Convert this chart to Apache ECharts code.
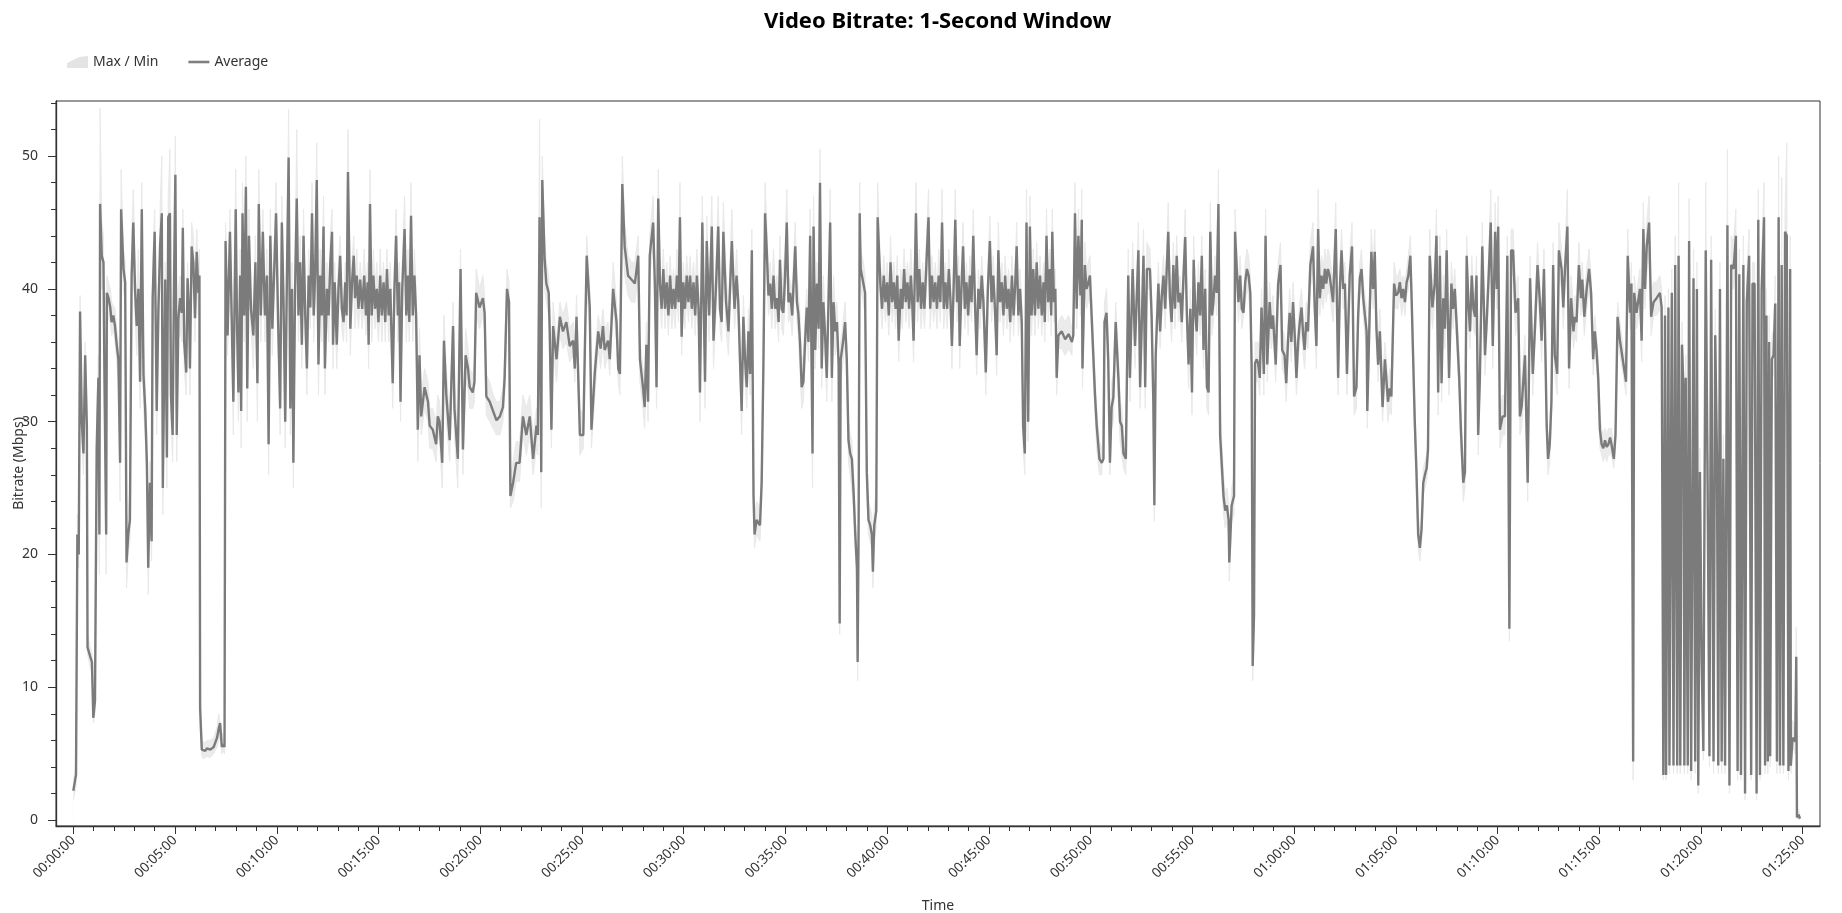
<!DOCTYPE html>
<html>
<head>
<meta charset="utf-8">
<title>Video Bitrate: 1-Second Window</title>
<script src="https://cdn.jsdelivr.net/npm/echarts@6/dist/echarts.min.js"></script>
<style>
  html, body { margin: 0; padding: 0; background: #fff; }
  #chart { width: 1842px; height: 913px; }
</style>
</head>
<body>
<div id="chart"></div>
<script>
// seconds from start of the clip
const secs = [
  0,8,12,16,20,25,30,35,40,42,
  50,55,59,64,69,74,77,79,84,89,
  92,97,99,104,109,113,118,123,128,133,
  138,141,148,153,157,162,167,172,177,182,
  187,192,197,202,207,212,217,221,226,231,
  234,240,246,251,256,261,264,268,271,276,
  280,285,288,293,297,301,305,310,315,320,
  323,327,333,337,342,344,349,354,359,364,
  369,372,374,379,384,389,394,404,414,424,
  429,433,438,442,446,449,455,462,467,472,
  479,483,487,492,495,499,504,509,513,518,
  524,531,537,543,547,553,559,565,571,576,
  581,587,592,598,604,610,615,620,625,630,
  635,640,645,649,654,659,664,669,674,679,
  684,689,694,699,704,709,713,718,723,728,
  733,738,742,748,753,758,763,766,771,777,
  782,787,792,797,802,806,810,817,822,827,
  831,836,841,846,852,858,863,868,871,875,
  880,885,890,895,900,905,910,915,920,925,
  930,935,942,947,952,957,961,965,970,977,
  982,987,991,996,1001,1006,1011,1016,1021,1026,
  1036,1046,1051,1060,1070,1075,1080,1088,1093,1100,
  1110,1115,1120,1124,1134,1142,1149,1157,1164,1169,
  1178,1183,1188,1198,1208,1213,1218,1228,1238,1248,
  1258,1267,1272,1279,1285,1289,1297,1306,1316,1326,
  1336,1346,1356,1366,1370,1375,1380,1383,1390,1395,
  1402,1405,1410,1415,1425,1435,1444,1454,1464,1474,
  1479,1484,1494,1504,1509,1514,1523,1528,1538,1548,
  1555,1562,1567,1577,1582,1592,1602,1607,1612,1619,
  1626,1636,1646,1656,1666,1671,1680,1685,1690,1695,
  1700,1710,1715,1720,1725,1730,1735,1740,1745,1750,
  1755,1760,1765,1770,1775,1780,1785,1789,1794,1799,
  1804,1809,1814,1819,1824,1829,1834,1839,1844,1848,
  1855,1863,1868,1875,1883,1888,1895,1902,1907,1912,
  1917,1925,1932,1942,1950,1956,1961,1966,1971,1976,
  1981,1986,1991,1996,2001,2006,2009,2015,2025,2030,
  2035,2040,2045,2050,2055,2060,2065,2070,2075,2080,
  2084,2089,2094,2099,2104,2109,2114,2120,2129,2134,
  2138,2143,2148,2153,2158,2163,2168,2173,2180,2183,
  2188,2193,2198,2202,2207,2212,2217,2222,2227,2232,
  2237,2242,2247,2252,2257,2260,2263,2270,2276,2281,
  2286,2291,2296,2301,2306,2311,2313,2316,2319,2322,
  2330,2335,2340,2345,2350,2355,2358,2362,2368,2372,
  2380,2385,2390,2395,2400,2405,2410,2415,2420,2425,
  2430,2434,2440,2445,2450,2455,2460,2465,2470,2474,
  2478,2485,2490,2495,2500,2505,2510,2516,2522,2527,
  2532,2537,2542,2547,2552,2557,2562,2567,2572,2577,
  2582,2587,2591,2596,2601,2606,2611,2614,2619,2624,
  2629,2634,2639,2644,2649,2654,2659,2664,2669,2674,
  2679,2684,2691,2697,2703,2708,2713,2718,2723,2728,
  2733,2738,2743,2748,2753,2758,2763,2768,2773,2778,
  2782,2787,2792,2797,2801,2806,2811,2816,2821,2826,
  2831,2836,2841,2846,2851,2856,2861,2865,2870,2875,
  2880,2884,2887,2892,2896,2900,2905,2915,2925,2935,
  2945,2949,2954,2959,2964,2970,2974,2976,2983,2988,
  2993,2998,3003,3008,3013,3018,3026,3033,3038,3041,
  3047,3052,3057,3062,3067,3074,3082,3087,3092,3097,
  3104,3111,3116,3124,3131,3141,3146,3156,3161,3166,
  3175,3180,3185,3188,3192,3200,3205,3210,3215,3220,
  3225,3229,3234,3239,3244,3249,3254,3259,3264,3269,
  3274,3279,3284,3289,3294,3299,3304,3309,3313,3318,
  3323,3328,3333,3338,3343,3348,3353,3358,3362,3367,
  3372,3377,3382,3392,3397,3402,3407,3409,3416,3423,
  3426,3431,3436,3441,3446,3451,3456,3461,3466,3471,
  3475,3478,3482,3485,3490,3494,3499,3504,3511,3516,
  3521,3528,3533,3538,3546,3553,3560,3565,3572,3577,
  3582,3587,3592,3597,3602,3607,3612,3617,3622,3627,
  3631,3636,3641,3648,3656,3661,3666,3671,3676,3681,
  3686,3691,3695,3700,3705,3710,3715,3723,3730,3735,
  3740,3745,3750,3756,3764,3771,3777,3784,3789,3794,
  3799,3804,3809,3814,3816,3823,3828,3833,3838,3843,
  3848,3853,3861,3868,3877,3882,3887,3895,3901,3907,
  3912,3917,3922,3927,3932,3937,3943,3947,3951,3956,
  3961,3966,3971,3976,3981,3986,3991,3995,4000,4008,
  4015,4020,4025,4030,4035,4040,4045,4050,4057,4064,
  4069,4074,4079,4087,4092,4099,4104,4109,4114,4119,
  4124,4129,4134,4138,4143,4148,4155,4160,4163,4168,
  4174,4180,4186,4193,4198,4202,4207,4215,4222,4229,
  4235,4240,4246,4253,4261,4266,4271,4281,4289,4296,
  4304,4310,4318,4325,4330,4337,4345,4349,4354,4359,
  4364,4369,4376,4381,4389,4394,4399,4406,4411,4417,
  4424,4428,4433,4440,4446,4450,4456,4463,4470,4476,
  4482,4487,4492,4497,4502,4507,4512,4517,4522,4527,
  4532,4536,4543,4548,4554,4561,4571,4579,4584,4591,
  4595,4600,4603,4610,4620,4625,4630,4635,4640,4647,
  4653,4660,4669,4679,4684,4689,4694,4697,4704,4707,
  4714,4719,4724,4730,4734,4739,4744,4749,4751,4755,
  4761,4765,4771,4778,4783,4788,4792,4797,4802,4807,
  4814,4819,4825,4830,4837,4842,4847,4851,4856,4861,
  4866,4871,4878,4884,4889,4896,4903,4908,4913,4918,
  4925,4930,4935,4942,4948,4952,4958,4964,4969,4974,
  4979,4986,4989,4993,4997,5001,5004,5009,5014,5019,
  5024,5029,5033,5038,5043,5048,5053,5058,5063,5065,
  5070,5078,5081,5083,5088,5092
];

const avgMbps = [
  2.2,3.4,21.5,20,38.3,30,27.6,35,29.7,13,
  12.3,11.9,7.7,9,28,33.3,21.5,46.4,42.5,42,
  33,21.5,39.7,39.3,38.6,37.5,38,37.2,35.8,34.7,
  26.9,46,41.5,40.5,19.4,21.5,22.6,41,45,40,
  37.2,40,33,46,33.5,31,26.9,19,25.4,21,
  39.3,44.3,30.8,38.5,43.2,45.7,25,33.7,40.7,27.3,
  45.4,45.7,32,29,40.4,48.6,29,37.8,39.3,38.2,
  44.6,36,33.7,40.8,37.5,34,43.2,42,37.8,42.8,
  39.7,41,8.4,5.3,5.2,5.2,5.4,5.3,5.5,6.2,
  6.9,7.3,5.5,5.7,5.5,43.6,36.5,44.3,38,31.5,
  46,37,32.2,41,30.8,45.7,38,47.7,32.5,44,
  38.5,36.5,42,32.9,46.4,38,44.3,38,41,28.3,
  44,37,41,45.7,37.5,31,45,39,30,41,
  49.9,31,40,26.9,40,46.8,38,42,35.8,44,
  38,34,41,38.6,45.7,38,41,48.2,34.3,41,
  38,44.7,34,40,38,42,44.3,35.8,40.5,35.8,
  40,42.5,38.5,37.5,40.5,38,48.8,37,40.5,42.5,
  39.3,41,38.5,40.7,38.5,41,38,40.5,35.8,46.4,
  38,41,38.5,40,37.5,41,38,40.5,37.5,41.5,
  38,40,32.9,40,44,38,40.5,31.5,40,44.5,
  38,41,37.5,45.5,38,41,38,29.4,35,30.4,
  32.6,31.5,29.7,29.4,28.3,30.4,30,26.9,36.1,32,
  28.6,33,37.2,31,27.2,41.5,27.9,35,34,32.6,
  32.2,33,39.7,38.6,39.3,38.2,31.9,31.5,30.8,30.1,
  30.4,31.1,33.3,40,39,24.4,25.4,26.9,26.9,30.4,
  29,30.4,27.2,29.7,29,45.4,26.2,48.2,42.2,40.4,
  39.7,36.8,29.4,37.2,34.7,37.9,36.8,37.5,35.7,36.1,
  34,37.9,29,29,36,42.5,38.6,29.4,33.7,36.8,
  35.5,37.2,35.4,36.1,34.7,40,37.5,34,33.6,47.9,
  43.2,41,40.7,40.4,42.5,34.7,32.6,31.1,35.8,31.5,
  42.5,45,40.4,32.6,46.8,40.4,38.5,41.5,38.5,40.5,
  38,41,38.5,40,38.5,41,39,45.4,36.4,40.5,
  38.5,41,39,41,38.5,40.5,38,41,38.5,32.2,
  45,33,43.6,38,44.7,36.1,40,44.7,38.5,37.5,
  44.3,39,36.8,43.6,38.5,41,39,34.7,30.8,37.9,
  34.7,32.6,36.8,33.6,42.9,24.4,21.5,22.6,22.2,25.4,
  34,45.7,42.9,39.5,40.4,38.5,41,38.5,39.3,37.5,
  42.2,38.5,38.2,41,45,39,39.7,38,43.2,39,
  38.2,36,32.6,33,36,38.6,36,44,27.6,44.7,
  35.4,40.4,37,48,34,39,36.5,33.3,39,45,
  33.3,39,36.8,37.5,34.3,14.8,34.7,36,37.5,34.7,
  28.6,27.6,27.2,24.7,21.5,19,11.9,22.6,45.7,41.5,
  40.4,39.7,26.2,22.6,22.2,21.5,18.7,22.2,23.3,45.4,
  40.4,38.5,41,39,40.5,38,42,39,40.5,38.5,
  41,36.1,40,38.5,41.5,39,40.5,38.5,41,39,
  36.1,45.7,39,41.5,38.5,40.5,38.5,42,45.4,38.5,
  41,39,40.5,38.5,41,39,45,38.5,40.5,38.5,
  41.5,39,35.7,40,45.2,39,41,35.7,40,43.2,
  38.5,40.5,38,41,39,44,39,35,40,38.5,
  41,39,33.7,40,43.6,39,41,38.5,35,42.9,
  39,40.5,38,41,38.5,40,37.5,41,38,40.5,
  43.2,38,40,37.5,29.7,27.6,45,30,44.7,38,
  41.5,38,42,38.5,41,38,40.5,37.5,44,39,
  41.5,38,44.3,39,40,33.3,36.5,36.8,36.2,36.6,
  36,36.5,45.7,38.5,44,39.5,45.2,34,41.8,40,
  40.4,41,38,35,32,29.7,27.2,26.9,27.2,37.5,
  38.2,34.7,26.9,31.1,31.8,37.5,33.3,30,29.7,27.6,
  27.2,41,33.3,41.5,35.7,42.9,32.6,42.5,32.6,41.5,
  41.5,37.9,31.5,23.7,35,40.4,36.8,39.5,41,38.5,
  41.8,44.3,39.3,37.5,41.8,38.5,42.5,39,39.7,37.5,
  41,43.9,38,34.3,38.5,32.2,42.2,38,36.8,40.5,
  38,42.5,35.4,40,32.6,32.2,44.3,38,39,41,
  39.7,46.4,29,24.4,23.3,23.7,22.6,19.4,23.7,24.4,
  44.3,41.5,39,41,38.5,38.2,40.5,41.5,41,39.7,
  34,11.6,15.5,34.4,34.7,34.4,33.3,38.6,33.6,44,
  34.3,39,37,38,34.3,40.4,41.8,35.4,35,32.9,
  36,38.2,36,39,36.5,33.3,36,37.5,38.6,36.5,
  35.4,37.5,36.8,41.8,43.2,38.6,35.7,44.5,39.3,41,
  40,41.5,40.4,41.5,41,40,39,44.5,33.3,40,
  42.9,40,40.4,33.6,41,43.2,31.9,32.6,38,40.8,
  41.5,39.3,38,36.8,30.8,38.2,42.8,40,42.8,37,
  34.3,36.8,31.1,34.7,31.5,32.5,31.9,40.4,39.5,39.7,
  40.5,39.3,40,39,40.5,41,42.5,39,35,30,
  26.2,21.5,20.5,21.9,25.4,26,26.5,27.9,42.5,38.6,
  40.4,44,32.2,42.5,32.9,39.3,37,42.9,33.3,40.4,
  38.5,40,37.5,33.3,29.4,25.4,26.2,42.5,39,36.8,
  41,38.5,37.9,41,29,33.3,43.2,38.5,35,37.5,
  41,45,35.7,44.3,40,44.7,29.4,30.4,30.4,42.5,
  14.4,42.9,42.9,38.2,39.3,30.4,31.1,35,25.4,40.8,
  33.6,36.8,41.8,39,36.1,41.5,29.7,27.2,28.3,31.5,
  41.8,35,33.6,42.9,41.5,38.6,41.5,44.7,34,39.3,
  36.8,37.9,37.5,41.8,39.3,40.7,37.9,40,41.5,39.7,
  34.7,36.8,35.4,33.3,29.4,28.3,28,28.6,28.1,28.3,
  28.8,28.3,27.2,29,37.9,36.1,34.4,33,42.5,38.2,
  40.4,4.4,39.7,38.2,40,36.1,44.5,40,43.2,45,
  37.9,39,39.3,39.7,38.6,3.4,38,3.4,38.6,4.1,
  39.7,4.1,41.8,4.1,42.5,4.1,35.8,31.9,4.1,33.3,
  4.1,43.6,3.7,40.8,4.4,40,2.6,26.2,12,5.2,
  42.9,27.2,4.8,42.2,4.4,36.5,27.6,4.1,40,4.4,
  27.2,4.1,44.8,2.6,41.8,41.5,44,3.7,41.1,3.4,
  41.8,2,39,42.5,3.4,40.4,40.4,2,45.2,3.4,
  40,45.4,4.1,38,4.4,36,4.8,34.7,35,38.9,
  4.4,45.4,4.1,41.8,4.1,44.3,44,3.7,41.5,4.1,
  6.2,5.9,12.3,0.2,0.4,0.1
];

const maxMbps = [
  3,4,23,22,39.5,32,29,36,31,14,
  13,12.5,8.5,10,30,35,24,53.6,45,44,
  35,23,41,40.5,40,39,39,38.5,37,36,
  29,49,43,42,22,23,25,44,47.5,42,
  39,43,35,48,36,33,29,21,27,23,
  42,46,33,40,46,50,27,36,42,30,
  47,50.5,34,31,43,51.5,31,40,41,40,
  46,38,36,42,39,36,45,44,40,44.5,
  41,43,10,6,6,5.8,6,6,6.2,7,
  8,8,6.5,6.5,6.5,45,38,46,40,34,
  49,39,35,43,33,48,40,50,35,46,
  40,38,44,35,49,40,46,39.5,43,31,
  46,39,43,48,39,33,47,41,32,43,
  53.5,33,42,29,42,52,40,44,38,46,
  40,36,43,40,48,40,43,51,36,43,
  40,47,36,42,40,44,46,38,42,38,
  42,44,40,39,42,40,52,39,42,44,
  41,43,40,42,40,43,40,42,38,49,
  40,43,40,42,39,43,40,42,39,43,
  40,42,35,42,46,40,42,34,42,47,
  40,43,39,48,40,43,40,31,37,32,
  34,33,31,31,30,32,31.5,29,38,34,
  30,35,39,33,29,43,30,37,35.5,34,
  33.5,34.5,41.5,40,41,39.5,33.5,33,32,31.5,
  31.5,32.5,35,41.5,40.5,26,27,28.5,28.5,32,
  31,32,29,31,30.5,52.8,28,50,44,42,
  41,38.5,31,39,36,39,38,39,37,37.5,
  35.5,39.5,31,30.5,38,44,40,31,35,38,
  37,38.5,37,37.5,36,42,39,36,35,50,
  45,42.5,42,42,44,36,34,33,37.5,33,
  44,47,42,34,49,42,40,43,40,42,
  39.5,42.5,40,41.5,40,43,40.5,48,38,42,
  40,42.5,40.5,42.5,40,42,40,43,40,34,
  47,35,45.5,40,47,38,42,47,40,39,
  46.5,41,38.5,46,40,43,40.5,36.5,32.5,39.5,
  36.5,34,38.5,35,44.5,26,23,24,23.5,27,
  36,48,45,41,42,40,43,40,41,39,
  44,40,40,43,47.5,41,41,40,45,41,
  40,38,34.5,35,38,40,38,46,30,47,
  37,42,39,50.5,36,41,38,35,41,47.5,
  35,41,38.5,39,36,16.5,36,37.5,39,36,
  30,29,28.5,26,23,20.5,13.5,24,48,43,
  42,41,28,24,23.5,23,20,23.5,25,48,
  42,40,42.5,40.5,42,39.5,44,40.5,42,40,
  42.5,38,41.5,40,43,40.5,42,40,43,40.5,
  38,48,40.5,43,40,42,40,44,47.5,40,
  42.5,40.5,42,40,43,40.5,47.5,40,42,40,
  43,40.5,37.5,42,47.5,40.5,42.5,37.5,41.5,45,
  40,42,39.5,42.5,40.5,46,40.5,37,41.5,40,
  42.5,40.5,35.5,41.5,45.5,40.5,42.5,40,37,45,
  40.5,42,39.5,42.5,40,41.5,39,42.5,39.5,42,
  45,39.5,41.5,39,31.5,29,47.5,32,47,39.5,
  43,39.5,43.5,40,42.5,39.5,42,39,46,40.5,
  43,39.5,46,40.5,41.5,35,37.5,38,37.5,38,
  37,38,48,40,46,41,47.5,36,43.5,41.5,
  42,42.5,39.5,36.5,33.5,31,28.5,28,28.5,39,
  40,36,28.5,33,33.5,39,35,31.5,31,29,
  28.5,43,35,43.5,37.5,45,34.5,44.5,34.5,43.5,
  43,39.5,33,25,37,42,38.5,41,42.5,40,
  43.5,46.5,41,39,43.5,40,44,40.5,41,39,
  42.5,46,39.5,36,40,34,44,39.5,38.5,42,
  39.5,44,37,41.5,34.5,34,46.5,39.5,40.5,42.5,
  41,49,31,26,24.5,25,24,21,25,26,
  46,43,40.5,42.5,40,39.5,42,43,42.5,41,
  35.5,13.5,17,36,36,36,35,40,35,46,
  36,40.5,38.5,39.5,36,42,43.5,37,36.5,34.5,
  37.5,40,37.5,40.5,38,35,37.5,39,40,38,
  37,39,38.5,43.5,45,40,37.5,47.5,41,42.5,
  41.5,43,42,43,42.5,41.5,40.5,46.5,35,41.5,
  44.5,41.5,42,35,42.5,45,33.5,34,39.5,42,
  43,40.5,39.5,38.5,32.5,40,44.5,41.5,44.5,38.5,
  36,38.5,33,36,33,34,33.5,42,41,41,
  41.5,40.5,41,40.5,41.5,42.5,44,40.5,36.5,31.5,
  27.5,23,21.5,23,26.5,27,27.5,29,44.5,40,
  42,46,34,44,34.5,41,38.5,44.5,35,42,
  40,41.5,39,35,31,27,27.5,44,40.5,38.5,
  42.5,40,39.5,42.5,31,35,45,40,36.5,39,
  42.5,47.5,37.5,46.5,41.5,47,31,32,32,44,
  16,44.5,44.5,40,41,32,33,36.5,27,42.5,
  35,38.5,43.5,40.5,37.5,43,31,28.5,29.5,33,
  43.5,36.5,35,45,43,40,43,47.5,35.5,41,
  38.5,39.5,39,43.5,40.5,42,39.5,41.5,43,41,
  36,38,36.5,34.5,30.5,29.5,29,29.5,29,29.5,
  29.5,29.5,28,30,39,37.5,35.5,34.5,44.5,39.5,
  42,6,41,39.5,41.5,37.5,46.5,41.5,45,47,
  39.5,40.5,40.5,41,40,5,39.5,5,40,5.5,
  41.5,5.5,44,5.5,48,5.5,37.5,33.5,5.5,35,
  5.5,46.8,5,43,6,42,4,28,14,6.5,
  48,29,6,44,6,38.5,29.5,5.5,42,6,
  29,5.5,50.5,4,44,43.5,46,5,43,5,
  44,3.5,41,44.5,5,42,42,3.5,47.5,5,
  42,48,5.5,40,6,38,6,36.5,37,41,
  6,50,5.5,48.4,5.5,46,51,5,44,5.5,
  7.5,7,14.5,1,1,0.5
];

const minMbps = [
  1.5,2.5,20,19,36,29,26,33,28,12.5,
  11.5,11,7.3,8,26,31,18.5,40,40,40,
  31,18.5,38,38,37.5,36.5,37,36,34.5,33,
  24,43,40,39,17.5,20,21,39,43,38,
  35,38,31,44,31,29,25,17,23,19.5,
  37,42,29,36,41,43,23,31,38,25,
  43,43,30,27,38,46,27,36,37,36,
  42,34,32,39,36,32,41,40,36,41,
  38,39,7,4.8,4.6,4.5,4.8,4.7,5,5.5,
  6,6.5,5,5.2,5,42,35,42,36,29,
  44,35,30,39,28,43,36,45,30,42,
  37,34,40,30,44,36,42,36,39,26,
  42,35,39,43,36,29,43,37,28,39,
  47,29,38,25,38,44,36,40,34,42,
  36,32,39,37,43,36,39,46,32,39,
  36,42,32,38,36,40,42,34,39,34,
  38,40,37,36,39,36,46,35,39,40,
  37,39,37,39,37,39,36.5,39,34,44,
  36,39,37,38,36,39,36,39,36,40,
  36,38,31,38,42,36,39,30,38,42,
  36,39,36,43,36,39,36,27,33,29,
  31,30,28,28,27,29,28.5,25,34,30,
  27,31,35,29,25,39,26,33,32.5,31,
  31,31.5,38,37,38,37,30.5,30,29.5,29,
  29,30,32,38.5,37.5,23.5,24,25.5,25.5,29,
  27.5,29,26,28,27.5,38,23.5,44,40,39,
  38,35,28,35.5,33,36.5,35.5,36,34.5,35,
  33,36.5,27.5,28,34,40,37,28,32,35.5,
  34,36,34,35,33.5,38.5,36,33,32,45,
  41,39.5,39,39,41,33,31,29.5,34,30,
  41,43,39,31,44,39,37,40,37,39,
  36.5,39.5,37,38.5,37,39.5,37.5,43,35,39,
  37,39.5,37.5,39.5,37,39,36.5,39.5,37,30,
  43,31,41.5,36,42.5,34,38,42.5,37,36,
  42,37,35,41.5,37,39,37.5,33,29,36,
  33,31,35,32,40,23,20.5,21.5,21,24,
  32,43,41,38,39,37,39.5,37,38,36,
  40.5,37,36.5,39,43,37.5,38,36.5,41,37.5,
  36.5,34,31,31.5,34.5,37,34.5,42,25,42,
  34,39,35.5,45,32.5,37.5,35,31.5,37.5,42,
  31.5,37.5,35,36,33,14,33,34.5,36,33,
  27,26,26,23.5,20.5,17.5,10.5,21,42,40,
  39,38,24.5,21.5,21,20.5,17.5,21,22,42,
  39,37,39.5,37.5,39,36.5,40,37.5,39,37,
  39.5,34.5,38.5,37,40,37.5,39,37,39.5,37.5,
  34.5,43,37.5,40,37,39,37,40,43,37,
  39.5,37.5,39,37,39.5,37.5,42.5,37,39,37,
  40,37.5,34,38.5,43,37.5,39.5,34,38.5,41,
  37,39,36.5,39.5,37.5,42,37.5,33.5,38.5,37,
  39.5,37.5,32,38.5,41.5,37.5,39.5,37,33.5,41,
  37.5,39,36.5,39.5,37,38.5,36,39.5,36.5,39,
  41,36.5,38.5,36,28,26,42,28.5,42,36.5,
  40,36.5,40.5,37,39.5,36.5,39,36,42,37.5,
  40,36.5,42,37.5,38.5,32,35.5,35.5,35,35.5,
  35,35,43,37,42,38,43,32.5,40,38.5,
  39,39.5,36.5,33.5,30.5,28,26,26,26,36,
  36.5,33,26,29.5,30,36,31.5,28.5,28.5,26.5,
  26,39,31.5,39.5,34,41,31,40.5,31,40,
  40,36.5,30,22.5,33.5,39,35.5,38,39.5,37,
  40,42,38,36,40,37,40.5,37.5,38,36,
  39.5,41.5,36.5,32.5,37,30.5,40.5,36.5,35,39,
  36.5,40.5,34,38.5,31,30.5,42,36.5,37.5,39.5,
  38,44,27.5,23,22,22.5,21.5,18,22.5,23,
  41,40,37.5,39.5,37,37,39,40,39.5,38,
  32.5,10.5,14,33,33,33,32,37,32,42,
  33,37.5,35.5,36.5,33,39,40,34,33.5,31.5,
  34.5,36.5,34.5,37.5,35,32,34.5,36,37,35,
  34,36,35.5,40,41.5,37,34,42.5,38,39.5,
  38.5,40,39,40,39.5,38.5,37.5,42,32,38.5,
  41,38.5,39,32,39.5,41.5,30.5,31,36.5,39.5,
  40,38,36.5,35.5,29.5,36.5,41,38.5,41,35.5,
  33,35.5,30,33.5,30,31,30.5,39,38.5,38.5,
  39.5,38,39,38,39.5,40,41,37.5,33.5,28.5,
  25,20.5,19.5,21,24.5,25,25.5,27,40.5,37,
  39,42,30.5,41,31.5,38,35.5,41,32,39,
  37,38.5,36,32,28,24,25,41,37.5,35.5,
  39.5,37,36.5,39.5,27.5,32,41.5,37,33.5,36,
  39.5,43,34,42,38.5,42.5,28,29,29,41,
  13.5,41,41,36.5,38,29,29.5,33.5,24,39,
  32,35.5,40,37.5,34.5,40,28.5,26,27,30,
  40,33.5,32,41,40,37,40,42.5,32.5,38,
  35.5,36.5,36,40,38,39.5,36.5,38.5,40,38.5,
  33.5,35.5,34,32,28,27.5,27,27.5,27,27.5,
  27.5,27.5,26.5,28,36.5,35,33.5,32,41,37,
  39,3,38.5,37,38.5,34.5,42,38.5,41,43,
  36.5,38,38,38.5,37.5,3,36.5,3,37,3.5,
  38,3.5,40,3.5,40.5,3.5,34,30.5,3.5,32,
  3.5,41.5,3,39,3.5,38.5,2,25,11,4.5,
  41,26,4,40.5,3.5,35,26.5,3.5,38.5,3.5,
  26,3.5,42.5,2,40,40,42,3,39.5,3,
  40,1.5,37.5,41,3,39,39,1.5,43,3,
  38.5,43,3.5,36.5,3.5,34.5,4,33,33.5,37.5,
  3.5,43,3.5,40,3.5,42,42,3,40,3.5,
  5.5,5,11,0.1,0.2,0.1
];

// axis tick values
const majorTickSecs = [0, 300, 600, 900, 1200, 1500, 1800, 2100, 2400, 2700, 3000, 3300, 3600, 3900, 4200, 4500, 4800, 5100];
const yLabelValues = [0, 10, 20, 30, 40, 50];
const yMinorValues = [0, 2, 4, 6, 8, 10, 12, 14, 16, 18, 20, 22, 24, 26, 28, 30, 32, 34, 36, 38, 40, 42, 44, 46, 48, 50, 52, 54];
const minuteTicks = [];
for (let s = 0; s <= 5100; s += 60) minuteTicks.push(s);

const FONT = "'Noto Sans', 'Open Sans', sans-serif";
const AXIS_COLOR = '#333';

function hms(v) {
  const p = n => String(n).padStart(2, '0');
  const h = Math.floor(v / 3600);
  const m = Math.floor((v % 3600) / 60);
  const s = Math.round(v % 60);
  return p(h) + ':' + p(m) + ':' + p(s);
}

const pairs = arr => secs.map((s, i) => [s, arr[i]]);

const chart = echarts.init(document.getElementById('chart'), null, { renderer: 'canvas' });

const option = {
  animation: false,
  backgroundColor: '#fff',
  title: {
    text: 'Video Bitrate: 1-Second Window',
    left: 764,
    top: 11,
    padding: 0,
    textStyle: { fontFamily: FONT, fontSize: 22, fontWeight: 'bold', color: '#000' }
  },
  legend: {
    left: 67,
    top: 55,
    padding: 0,
    itemWidth: 21,
    itemHeight: 12,
    itemGap: 30,
    textStyle: { fontFamily: FONT, fontSize: 14, color: '#333' },
    data: [
      { name: 'Max / Min', icon: 'path://M0,12 L0,7 L12,1 L21,0 L21,12 Z', itemStyle: { color: '#e4e4e4' } },
      // zero-length subpaths keep the icon box 21x12 so the bar stays thin
      { name: 'Average', icon: 'path://M0,0 L0,0 M0,12 L0,12 M0,4.7 L21,4.7 L21,7.3 L0,7.3 Z', itemStyle: { color: '#7f7f7f' } }
    ]
  },
  grid: {
    left: 56, right: 22, top: 101, bottom: 87,
    containLabel: false,
    outerBoundsMode: 'none',
    show: true, borderColor: AXIS_COLOR, borderWidth: 1, backgroundColor: 'transparent'
  },
  xAxis: [
    {
      type: 'value', min: -51, max: 5151,
      name: 'Time', nameLocation: 'middle', nameGap: 73, nameMoveOverlap: false,
      nameTextStyle: { fontFamily: FONT, fontSize: 14, color: '#333' },
      axisLine: { onZero: false, lineStyle: { color: AXIS_COLOR, width: 1.3 } },
      axisTick: { show: true, length: 8, customValues: majorTickSecs, lineStyle: { color: AXIS_COLOR } },
      axisLabel: {
        customValues: majorTickSecs, formatter: hms, rotate: 45, margin: 12,
        fontFamily: FONT, fontSize: 13.5, color: '#333'
      },
      splitLine: { show: false },
      z: 5
    },
    {
      type: 'value', min: -51, max: 5151, position: 'bottom',
      axisLine: { show: false, onZero: false },
      axisTick: { show: true, length: 5, customValues: minuteTicks, lineStyle: { color: AXIS_COLOR } },
      axisLabel: { show: false },
      splitLine: { show: false },
      z: 5
    }
  ],
  yAxis: [
    {
      type: 'value', min: -0.45, max: 54.15,
      name: 'Bitrate (Mbps)', nameLocation: 'middle', nameGap: 30, nameMoveOverlap: false,
      nameTextStyle: { fontFamily: FONT, fontSize: 14, color: '#333' },
      axisLine: { show: true, onZero: false, lineStyle: { color: AXIS_COLOR, width: 1.3 } },
      axisTick: { show: true, length: 8, customValues: yLabelValues, lineStyle: { color: AXIS_COLOR } },
      axisLabel: { customValues: yLabelValues, margin: 18, fontFamily: FONT, fontSize: 14, color: '#333' },
      splitLine: { show: false },
      z: 5
    },
    {
      type: 'value', min: -0.45, max: 54.15, position: 'left',
      axisLine: { show: false, onZero: false },
      axisTick: { show: true, length: 5, customValues: yMinorValues, lineStyle: { color: AXIS_COLOR } },
      axisLabel: { show: false },
      splitLine: { show: false },
      z: 5
    }
  ],
  series: [
    {
      name: 'Max / Min',
      type: 'line',
      data: pairs(maxMbps),
      symbol: 'none',
      lineStyle: { width: 1, color: '#e9e9e9' },
      itemStyle: { color: '#e4e4e4' },
      areaStyle: { color: '#ebebeb', opacity: 1 },
      silent: true
    },
    {
      name: 'Min',
      type: 'line',
      data: pairs(minMbps),
      symbol: 'none',
      lineStyle: { width: 1, color: '#e9e9e9' },
      areaStyle: { color: '#ffffff', opacity: 1 },
      silent: true
    },
    {
      name: 'Average',
      type: 'line',
      data: pairs(avgMbps),
      symbol: 'none',
      lineStyle: { width: 2.4, color: '#7b7b7b' },
      itemStyle: { color: '#7b7b7b' }
    }
  ]
};

chart.setOption(option);
window.addEventListener('resize', () => chart.resize());
</script>
</body>
</html>
